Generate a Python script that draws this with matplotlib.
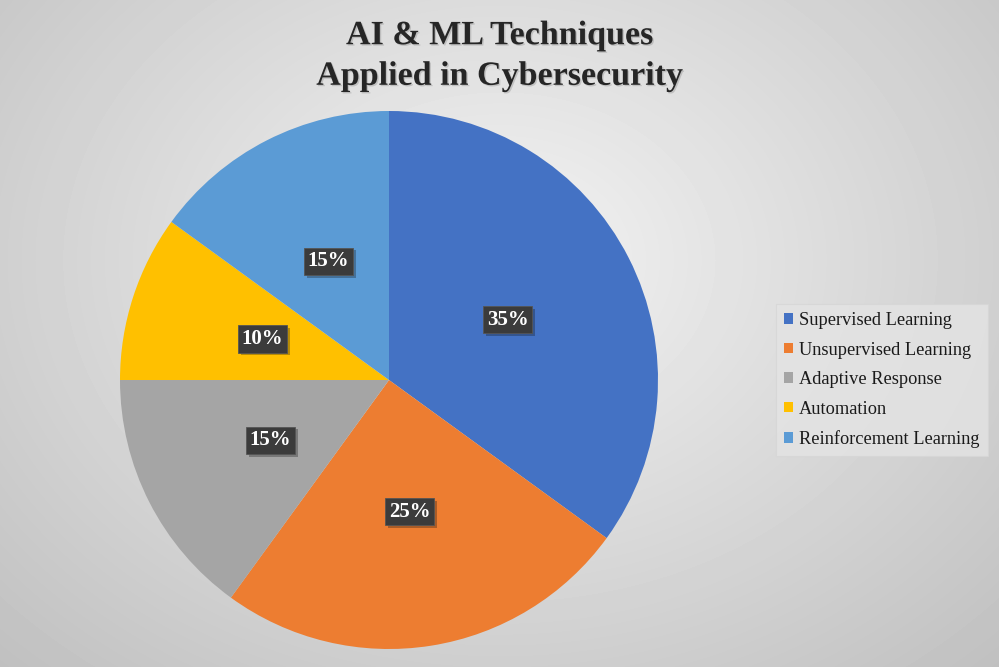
import numpy as np
import matplotlib.pyplot as plt
import matplotlib.patheffects as pe

labels = ['Supervised Learning', 'Unsupervised Learning', 'Adaptive Response',
          'Automation', 'Reinforcement Learning']
shares = [35, 25, 15, 10, 15]
colors = ['#4472C4', '#ED7D31', '#A5A5A5', '#FFC000', '#5B9BD5']

plt.rcParams['font.family'] = ['Liberation Serif', 'DejaVu Serif']

W, H = 999, 667
fig = plt.figure(figsize=(W / 100, H / 100), dpi=100)

# radial grey background
bg = fig.add_axes([0, 0, 1, 1])
yy, xx = np.mgrid[0:H, 0:W]
d = np.sqrt(((xx - 500) / 640) ** 2 + ((yy - 260) / 500) ** 2)
shade = np.clip(0.955 - 0.18 * d, 0, 1)
bg.imshow(shade, cmap='gray', vmin=0, vmax=1, aspect='auto', extent=[0, W, H, 0])
bg.set_axis_off()

# pie
cx, cy, r = 389, 380, 269
ax = fig.add_axes([(cx - r) / W, 1 - (cy + r) / H, 2 * r / W, 2 * r / H])
wedges, _, autotexts = ax.pie(shares, colors=colors, startangle=90, counterclock=False,
                              autopct='%d%%', pctdistance=0.495,
                              wedgeprops=dict(linewidth=0))
for t in autotexts:
    t.set_color('white')
    t.set_fontsize(15)
    t.set_fontweight('bold')
    t.set_bbox(dict(boxstyle='square,pad=0.18', facecolor='#3b3b3b', edgecolor='#555555', linewidth=0.6))
    t.get_bbox_patch().set_path_effects([pe.SimplePatchShadow(offset=(2, -2), alpha=0.3), pe.Normal()])
ax.set_xlim(-1, 1)
ax.set_ylim(-1, 1)
ax.set_aspect('equal')
ax.set_axis_off()

fig.text(0.5, 1 - 56 / H, 'AI & ML Techniques\nApplied in Cybersecurity', ha='center', va='center',
         fontsize=24.5, fontweight='bold', color='#262626', linespacing=1.4,
         path_effects=[pe.withSimplePatchShadow(offset=(1, -1), alpha=0.15)])

leg = fig.legend(wedges, labels, loc='center left', bbox_to_anchor=(776 / W, 1 - 380 / H),
                 fontsize=13.2, frameon=True, handlelength=0.5, handleheight=0.5,
                 handletextpad=0.3, labelspacing=0.68, borderpad=0.45, borderaxespad=0,
                 fancybox=False)
leg.get_frame().set_facecolor('#e4e4e4')
leg.get_frame().set_edgecolor('#d6d6d6')
leg.get_frame().set_linewidth(0.8)
for txt in leg.get_texts():
    txt.set_color('#1a1a1a')

fig.savefig('out.png', dpi=100)
